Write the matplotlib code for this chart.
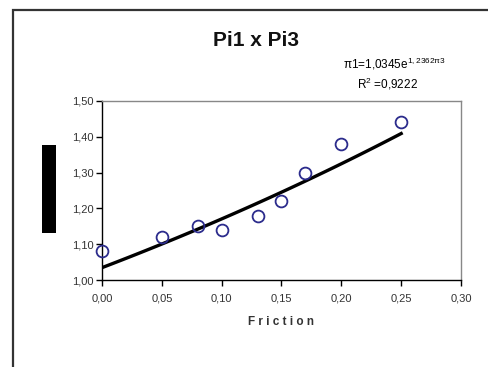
import matplotlib.pyplot as plt
import numpy as np
from matplotlib.patches import Rectangle
from matplotlib.ticker import FuncFormatter

plt.rcParams['font.family'] = ['Liberation Sans', 'DejaVu Sans']

# Data
friction = [0.00, 0.05, 0.08, 0.10, 0.13, 0.15, 0.17, 0.20, 0.25]
pi1 = [1.08, 1.12, 1.15, 1.14, 1.18, 1.22, 1.30, 1.38, 1.44]

# Exponential trendline coefficients (from the chart label)
coef_a = 1.0345
coef_b = 1.2362

x_ticks = [0.00, 0.05, 0.10, 0.15, 0.20, 0.25, 0.30]
y_ticks = [1.00, 1.10, 1.20, 1.30, 1.40, 1.50]

fig = plt.figure(figsize=(4.89, 3.67), dpi=100)
W, H = 489, 367

# outer chart border
fig.add_artist(Rectangle((13 / W, -0.1), 1.2, 1 - 10 / H + 0.1,
                         transform=fig.transFigure, fill=False,
                         edgecolor='#333333', linewidth=1.6))

# redacted y label box
fig.add_artist(Rectangle((42 / W, 1 - 233 / H), 14 / W, 88 / H,
                         transform=fig.transFigure, facecolor='black',
                         edgecolor='none'))

ax = fig.add_axes([102 / W, 1 - 280 / H, (461 - 102) / W, (280 - 101) / H])

xs = np.linspace(0, 0.25, 100)
ax.plot(xs, coef_a * np.exp(coef_b * xs), color='black', linewidth=2.4, zorder=2)
ax.plot(friction, pi1, linestyle='none', marker='o', markersize=8.5,
        markerfacecolor='none', markeredgecolor='#2b2b8c', markeredgewidth=1.3,
        zorder=3, clip_on=False)

ax.set_xlim(0, 0.30)
ax.set_ylim(1.00, 1.50)
ax.set_xticks(x_ticks)
ax.set_yticks(y_ticks)
comma = FuncFormatter(lambda v, p: f'{v:.2f}'.replace('.', ','))
ax.xaxis.set_major_formatter(comma)
ax.yaxis.set_major_formatter(comma)
ax.tick_params(direction='out', length=4, width=1, labelsize=8,
               labelcolor='#333333', pad=2)
ax.tick_params(axis='x', pad=6)

for side in ['top', 'right']:
    ax.spines[side].set_color('#888888')
    ax.spines[side].set_linewidth(1.0)
for side in ['left', 'bottom']:
    ax.spines[side].set_color('black')
    ax.spines[side].set_linewidth(1.0)

ax.set_xlabel('F r i c t i o n', fontsize=8.5, fontweight='bold',
              color='#333333', labelpad=9)

fig.text(256 / W, 1 - 40 / H, 'Pi1 x Pi3', ha='center', va='center',
         fontsize=15, fontweight='bold', color='#111111')
fig.text(394 / W, 1 - 64 / H, 'π1=1,0345e$\\mathregular{^{1,2362π3}}$',
         ha='center', va='center', fontsize=8.5)
fig.text(388 / W, 1 - 84 / H, 'R$\\mathregular{^2}$ =0,9222', ha='center',
         va='center', fontsize=8.5)

fig.savefig('out.png', dpi=100)
